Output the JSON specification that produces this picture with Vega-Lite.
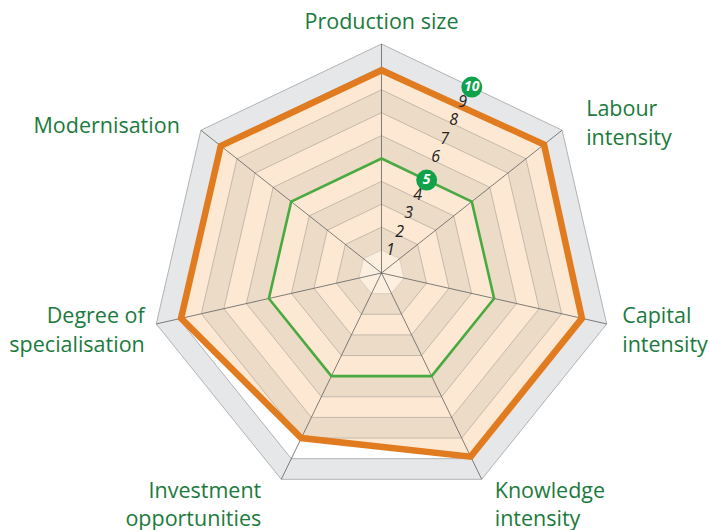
{
  "$schema": "https://vega.github.io/schema/vega-lite/v6.json",
  "autosize": "none",
  "width": 710,
  "height": 530,
  "padding": 0,
  "background": "white",
  "config": {"view": {"stroke": null}},
  "datasets": {
    "rings": [
      {"level": 1, "k": [0,1,2,3,4,5,6]},
      {"level": 2, "k": [0,1,2,3,4,5,6]},
      {"level": 3, "k": [0,1,2,3,4,5,6]},
      {"level": 4, "k": [0,1,2,3,4,5,6]},
      {"level": 5, "k": [0,1,2,3,4,5,6]},
      {"level": 6, "k": [0,1,2,3,4,5,6]},
      {"level": 7, "k": [0,1,2,3,4,5,6]},
      {"level": 8, "k": [0,1,2,3,4,5,6]},
      {"level": 9, "k": [0,1,2,3,4,5,6]},
      {"level": 10, "k": [0,1,2,3,4,5,6]}
    ],
    "axes": [
      {"axis": "Production size", "k": 0, "orange": 8.85, "green": 5},
      {"axis": "Labour\nintensity", "k": 1, "orange": 9.0, "green": 5},
      {"axis": "Capital\nintensity", "k": 2, "orange": 8.9, "green": 5},
      {"axis": "Knowledge\nintensity", "k": 3, "orange": 8.9, "green": 5},
      {"axis": "Investment\nopportunities", "k": 4, "orange": 8.0, "green": 5},
      {"axis": "Degree of\nspecialisation", "k": 5, "orange": 8.9, "green": 5},
      {"axis": "Modernisation", "k": 6, "orange": 8.9, "green": 5}
    ],
    "ticks": [{"n": 1}, {"n": 2}, {"n": 3}, {"n": 4}, {"n": 6}, {"n": 7}, {"n": 8}, {"n": 9}],
    "badges": [{"n": 5}, {"n": 10}]
  },
  "encoding": {
    "x": {"field": "x", "type": "quantitative", "scale": {"domain": [-16.515, 14.221], "nice": false, "zero": false}, "axis": null},
    "y": {"field": "y", "type": "quantitative", "scale": {"domain": [-11.223, 11.921], "nice": false, "zero": false}, "axis": null}
  },
  "layer": [
    {
      "data": {"name": "rings"},
      "transform": [
        {"flatten": ["k"]},
        {"calculate": "datum.level * sin(datum.k * 2 * PI / 7)", "as": "x"},
        {"calculate": "datum.level * cos(datum.k * 2 * PI / 7)", "as": "y"}
      ],
      "layer": [
        {"transform": [{"filter": "datum.level == 10"}], "mark": {"type": "line", "interpolate": "linear-closed", "fill": "#e6e7e8", "stroke": "#a9abae", "strokeWidth": 0.9}, "encoding": {"order": {"field": "k"}}},
        {"transform": [{"filter": "datum.level == 9"}], "mark": {"type": "line", "interpolate": "linear-closed", "fill": "#ffffff", "stroke": "#a9abae", "strokeWidth": 0.9}, "encoding": {"order": {"field": "k"}}}
      ]
    },
    {
      "data": {"name": "axes"},
      "transform": [
        {"calculate": "datum.orange * sin(datum.k * 2 * PI / 7)", "as": "x"},
        {"calculate": "datum.orange * cos(datum.k * 2 * PI / 7)", "as": "y"}
      ],
      "mark": {"type": "line", "interpolate": "linear-closed", "fill": "#fde9d3", "strokeWidth": 0},
      "encoding": {"order": {"field": "k"}}
    },
    {
      "data": {"name": "rings"},
      "transform": [
        {"flatten": ["k"]},
        {"calculate": "datum.level * sin(datum.k * 2 * PI / 7)", "as": "x"},
        {"calculate": "datum.level * cos(datum.k * 2 * PI / 7)", "as": "y"}
      ],
      "layer": [
        {"transform": [{"filter": "datum.level == 8"}], "mark": {"type": "line", "interpolate": "linear-closed", "fill": "#ecdbc7", "stroke": "#b9ada1", "strokeWidth": 0.8}, "encoding": {"order": {"field": "k"}}},
        {"transform": [{"filter": "datum.level == 7"}], "mark": {"type": "line", "interpolate": "linear-closed", "fill": "#fde9d3", "stroke": "#b9ada1", "strokeWidth": 0.8}, "encoding": {"order": {"field": "k"}}},
        {"transform": [{"filter": "datum.level == 6"}], "mark": {"type": "line", "interpolate": "linear-closed", "fill": "#ecdbc7", "stroke": "#b9ada1", "strokeWidth": 0.8}, "encoding": {"order": {"field": "k"}}},
        {"transform": [{"filter": "datum.level == 5"}], "mark": {"type": "line", "interpolate": "linear-closed", "fill": "#fde9d3", "stroke": "#b9ada1", "strokeWidth": 0.8}, "encoding": {"order": {"field": "k"}}},
        {"transform": [{"filter": "datum.level == 4"}], "mark": {"type": "line", "interpolate": "linear-closed", "fill": "#ecdbc7", "stroke": "#b9ada1", "strokeWidth": 0.8}, "encoding": {"order": {"field": "k"}}},
        {"transform": [{"filter": "datum.level == 3"}], "mark": {"type": "line", "interpolate": "linear-closed", "fill": "#fde9d3", "stroke": "#b9ada1", "strokeWidth": 0.8}, "encoding": {"order": {"field": "k"}}},
        {"transform": [{"filter": "datum.level == 2"}], "mark": {"type": "line", "interpolate": "linear-closed", "fill": "#ecdbc7", "stroke": "#b9ada1", "strokeWidth": 0.8}, "encoding": {"order": {"field": "k"}}},
        {"transform": [{"filter": "datum.level == 1"}], "mark": {"type": "line", "interpolate": "linear-closed", "fill": "#fcefdf", "stroke": "#cfc3b7", "strokeWidth": 0.6}, "encoding": {"order": {"field": "k"}}},
        {"transform": [{"filter": "datum.level == 10"}], "mark": {"type": "rule", "color": "#5f5f5f", "strokeWidth": 0.8}, "encoding": {"x2": {"datum": 0}, "y2": {"datum": 0}}}
      ]
    },
    {
      "data": {"name": "axes"},
      "transform": [
        {"calculate": "datum.green * sin(datum.k * 2 * PI / 7)", "as": "x"},
        {"calculate": "datum.green * cos(datum.k * 2 * PI / 7)", "as": "y"}
      ],
      "mark": {"type": "line", "interpolate": "linear-closed", "color": "#4aaa42", "strokeWidth": 2.6},
      "encoding": {"order": {"field": "k"}}
    },
    {
      "data": {"name": "axes"},
      "transform": [
        {"calculate": "datum.orange * sin(datum.k * 2 * PI / 7)", "as": "x"},
        {"calculate": "datum.orange * cos(datum.k * 2 * PI / 7)", "as": "y"}
      ],
      "mark": {"type": "line", "interpolate": "linear-closed", "color": "#e07b20", "strokeWidth": 6.5, "strokeJoin": "miter"},
      "encoding": {"order": {"field": "k"}}
    },
    {
      "data": {"name": "ticks"},
      "transform": [
        {"calculate": "datum.n * cos(PI / 7) * sin(PI / 7)", "as": "x"},
        {"calculate": "datum.n * cos(PI / 7) * cos(PI / 7)", "as": "y"}
      ],
      "mark": {"type": "text", "font": "Open Sans", "fontStyle": "italic", "fontSize": 16, "color": "#222222", "align": "center", "baseline": "middle", "dy": -4},
      "encoding": {"text": {"field": "n", "type": "quantitative"}}
    },
    {
      "data": {"name": "badges"},
      "transform": [
        {"calculate": "datum.n * cos(PI / 7) * sin(PI / 7)", "as": "x"},
        {"calculate": "datum.n * cos(PI / 7) * cos(PI / 7)", "as": "y"}
      ],
      "layer": [
        {"mark": {"type": "point", "filled": true, "color": "#0fa24a", "opacity": 1, "size": 440}},
        {"mark": {"type": "text", "font": "Open Sans", "fontStyle": "italic", "fontWeight": "bold", "fontSize": 14, "color": "#ffffff", "align": "center", "baseline": "middle"}, "encoding": {"text": {"field": "n", "type": "quantitative"}}}
      ]
    },
    {
      "data": {"name": "axes"},
      "transform": [
        {"calculate": "11 * sin(datum.k * 2 * PI / 7)", "as": "x"},
        {"calculate": "11 * cos(datum.k * 2 * PI / 7)", "as": "y"}
      ],
      "encoding": {"text": {"field": "axis", "type": "nominal"}},
      "layer": [
        {"transform": [{"filter": "datum.k == 0"}], "mark": {"type": "text", "font": "Open Sans", "fontSize": 21.5, "lineHeight": 29, "lineBreak": "\n", "color": "#1b7a3d", "align": "center", "baseline": "middle", "dy": 2}},
        {"transform": [{"filter": "datum.k == 1"}], "mark": {"type": "text", "font": "Open Sans", "fontSize": 21.5, "lineHeight": 29, "lineBreak": "\n", "color": "#1b7a3d", "align": "left", "baseline": "middle", "dx": 6, "dy": -6}},
        {"transform": [{"filter": "datum.k == 2"}], "mark": {"type": "text", "font": "Open Sans", "fontSize": 21.5, "lineHeight": 29, "lineBreak": "\n", "color": "#1b7a3d", "align": "left", "baseline": "middle", "dx": -7, "dy": -12}},
        {"transform": [{"filter": "datum.k == 3"}], "mark": {"type": "text", "font": "Open Sans", "fontSize": 21.5, "lineHeight": 28, "lineBreak": "\n", "color": "#1b7a3d", "align": "left", "baseline": "middle", "dx": 3, "dy": -8}},
        {"transform": [{"filter": "datum.k == 4"}], "mark": {"type": "text", "font": "Open Sans", "fontSize": 21.5, "lineHeight": 28, "lineBreak": "\n", "color": "#1b7a3d", "align": "right", "baseline": "middle", "dx": -10, "dy": -8}},
        {"transform": [{"filter": "datum.k == 5"}], "mark": {"type": "text", "font": "Open Sans", "fontSize": 21.5, "lineHeight": 29, "lineBreak": "\n", "color": "#1b7a3d", "align": "right", "baseline": "middle", "dx": 11, "dy": -12}},
        {"transform": [{"filter": "datum.k == 6"}], "mark": {"type": "text", "font": "Open Sans", "fontSize": 21.5, "lineHeight": 29, "lineBreak": "\n", "color": "#1b7a3d", "align": "right", "baseline": "middle", "dx": -3, "dy": 11}}
      ]
    }
  ]
}
